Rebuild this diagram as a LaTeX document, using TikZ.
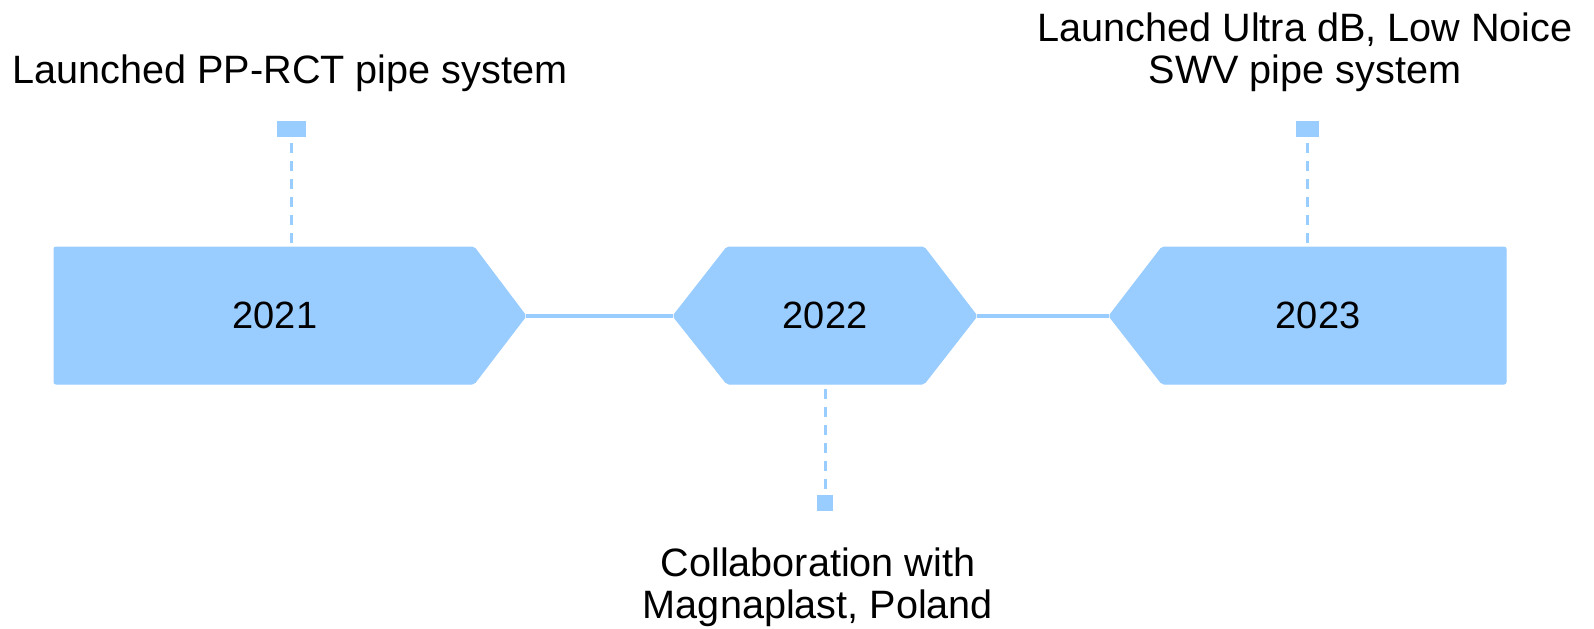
\documentclass[tikz,border=0pt]{standalone}
\usepackage{fontspec}
\setmainfont{Liberation Sans}
\usetikzlibrary{positioning}
\definecolor{tlblue}{HTML}{99CCFF}
\tikzset{
    band/.style={fill=tlblue,draw=tlblue,line width=0.5pt,rounded corners=1pt},
    link/.style={draw=tlblue,line width=2.2pt},
    tick/.style={rectangle,fill=tlblue,inner sep=0pt,minimum height=8pt},
    stem/.style={draw=tlblue,line width=1.5pt,dash pattern=on 5pt off 4pt},
    year/.style={font=\fontsize{19}{22}\selectfont,inner sep=0pt},
    note/.style={font=\fontsize{19.8}{21}\selectfont,align=center,inner sep=0pt},
}
\begin{document}
\begin{tikzpicture}[x=0.5pt,y=-0.5pt]
            \useasboundingbox (0,0) rectangle (1594,628);
            % year bands
            \draw[band] (54,247) -- (474,247) -- (526,316) -- (474,384) -- (54,384) -- cycle;
            \draw[band] (673,316) -- (727,247) -- (924,247) -- (977,316) -- (924,384) -- (727,384) -- cycle;
            \draw[band] (1109,316) -- (1162,247) -- (1506,247) -- (1506,384) -- (1162,384) -- cycle;
            \coordinate (r1) at (526,316);
            \coordinate (l2) at (673,316);
            \coordinate (r2) at (977,316);
            \coordinate (l3) at (1109,316);
            \coordinate (t1) at (291,246);
            \coordinate (b2) at (825,385);
            \coordinate (t3) at (1307,246);
            \draw[link] (r1) -- (l2);
            \draw[link] (r2) -- (l3);
            \node[year,anchor=base] (y1) at (275,328) {2021};
            \node[year,anchor=base] (y2) at (825,328) {2022};
            \node[year,anchor=base] (y3) at (1318,328) {2023};
            % markers
            \node[tick,minimum width=14.5pt] (m1) at (291,129) {};
            \node[tick,minimum width=8pt] (m2) at (825,503) {};
            \node[tick,minimum width=11.5pt] (m3) at (1307,129) {};
            \draw[stem,shorten <=3pt] (m1.south) -- (t1);
            \draw[stem,shorten <=3pt] (m2.north) -- (b2);
            \draw[stem,shorten <=3pt] (m3.south) -- (t3);
            % notes
            \node[note,anchor=base] (n1) at (290,83) {Launched PP-RCT pipe system};
            \node[note,anchor=base] (n2) at (818,618) {Collaboration with\\Magnaplast, Poland};
            \node[note,anchor=base] (n3) at (1305,83) {Launched Ultra dB, Low Noice\\SWV pipe system};
        \end{tikzpicture}
\end{document}
